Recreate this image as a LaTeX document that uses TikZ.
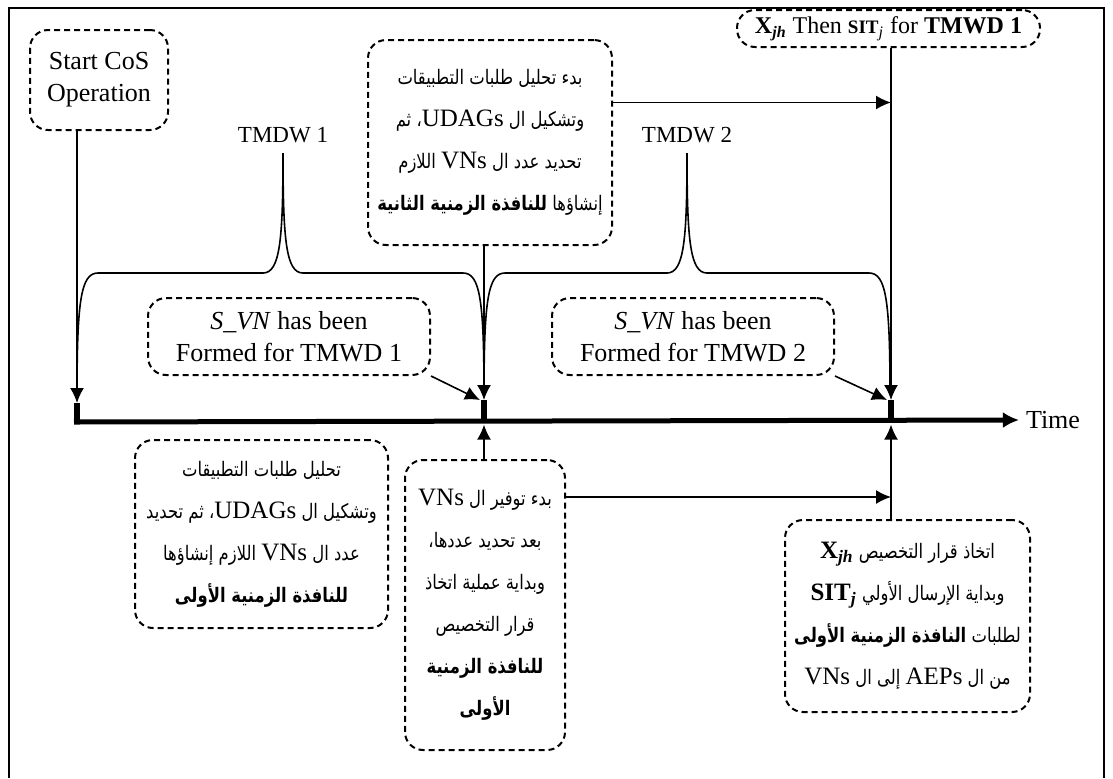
\documentclass[tikz,border=0pt]{standalone}
\usepackage{fontspec}
\setmainfont{Liberation Serif}
\newfontfamily\arabicfont[Script=Arabic,FakeStretch=0.82]{DejaVu Sans}
\usetikzlibrary{arrows,arrows.meta,calc,positioning}
\TeXXeTstate=1
\newcommand{\arline}[1]{{\arabicfont\beginR #1\endR}}
\newcommand{\latw}[1]{\beginL{\rmfamily\fontsize{12.5}{21}\selectfont #1}\endL}
\tikzset{%
	dbox/.style     = {draw, dashed, rounded corners=9pt, line width=1pt, dash pattern=on 3pt off 2pt, align=center, inner sep=2pt},
	arbox/.style    = {dbox, font=\fontsize{10}{21}\selectfont}, % Arabic notes
	enbox/.style    = {dbox, font=\fontsize{13}{16}\selectfont}, % English notes
	label/.style    = {font=\fontsize{11.5}{14}\selectfont},
	waypoint/.style = {coordinate},
	tick/.style     = {line width=3pt},
	axis/.style     = {line width=2.5pt, -{Latex[length=8pt,width=8pt]}},
	arrow/.style    = {line width=0.8pt, ->},
	brace/.style    = {line width=0.8pt},
}

\begin{document}
\begin{tikzpicture}[x=0.5pt,y=-0.5pt,node distance=203.5pt,>={Latex[length=7.5pt,width=7pt]}]
	\useasboundingbox (0,0) rectangle (1113,778);
	\draw[line width=1pt] (9,778) -- (9,8) -- (1104,8) -- (1104,778);

	\node [waypoint] (t0) at (77,422) {};
	\node [waypoint] (t1) [right of=t0] {};
	\node [waypoint] (t2) [right of=t1] {};
	\node [waypoint] (t0up) [above of=t0,node distance=9.5pt] {};
	\node [waypoint] (t1up) [above of=t1,node distance=11pt] {};
	\node [waypoint] (t2up) [above of=t2,node distance=11pt] {};
	\node [waypoint] (t1dn) [below of=t1,node distance=1.3pt] {};
	\node [waypoint] (t2dn) [below of=t2,node distance=1.3pt] {};
	\node [label,font=\fontsize{13}{15}\selectfont] (time) at (1053,420) {Time};

	\node [enbox,minimum width=69pt,minimum height=50pt] (start) at (99,80) {Start CoS\\Operation};
	\node [arbox,minimum width=122pt,minimum height=102.5pt] (plan2) at (490,142.5) {%
		\arline{بدء تحليل طلبات التطبيقات}\\
		\arline{وتشكيل ال \latw{UDAGs}، ثم}\\
		\arline{تحديد عدد ال \latw{VNs} اللازم}\\
		\arline{إنشاؤها \textbf{للنافذة الزمنية الثانية}}};
	\node [enbox,font=\fontsize{12}{14}\selectfont,minimum width=151.5pt,minimum height=18.5pt,inner sep=1pt] (alloc1) at (888.5,28.5) {\textbf{X\textsubscript{\textit{jh}}} Then \textbf{\fontsize{9.5}{12}\selectfont SIT}\textsubscript{\textit{j}} for \textbf{TMWD 1}};
	\node [enbox,minimum width=141pt,minimum height=38.5pt] (svn1) at (289,336.5) {\textit{S\_VN} has been\\Formed for TMWD 1};
	\node [enbox,minimum width=141pt,minimum height=38.5pt] (svn2) at (693,336.5) {\textit{S\_VN} has been\\Formed for TMWD 2};
	\node [arbox,minimum width=126.5pt,minimum height=94pt] (plan1) at (261.5,534) {%
		\arline{تحليل طلبات التطبيقات}\\
		\arline{وتشكيل ال \latw{UDAGs}، ثم تحديد}\\
		\arline{عدد ال \latw{VNs} اللازم إنشاؤها}\\
		\arline{\textbf{للنافذة الزمنية الأولى}}};
	\node [arbox,minimum width=80pt,minimum height=145pt] (prov1) at (485,605) {%
		\arline{بدء توفير ال \latw{VNs}}\\
		\arline{بعد تحديد عددها،}\\
		\arline{وبداية عملية اتخاذ}\\
		\arline{قرار التخصيص}\\
		\arline{\textbf{للنافذة الزمنية}}\\
		\arline{\textbf{الأولى}}};
	\node [arbox,minimum width=122.5pt,minimum height=96pt] (alloc0) at (907.5,616) {%
		\arline{اتخاذ قرار التخصيص \latw{\textbf{X\textsubscript{\textit{jh}}}}}\\
		\arline{وبداية الإرسال الأولي \latw{\textbf{SIT\textsubscript{\textit{j}}}}}\\
		\arline{لطلبات \textbf{النافذة الزمنية الأولى}}\\
		\arline{من ال \latw{AEPs} إلى ال \latw{VNs}}};

	\node [label] (tmdw1) at (283,135) {TMDW 1};
	\node [label] (tmdw2) at (687,135) {TMDW 2};

	% time line
	\draw[axis] ([xshift=-1.5pt]t0) -- (time.west);
	\draw[tick] (t0) -- (t0up);
	\draw[tick] (t1) -- (t1up);
	\draw[tick] (t2) -- (t2up);

	% windows
	\draw[brace] (77,395) .. controls (77,300) and (81,273) .. (98,273) -- (263,273) .. controls (280,273) and (283,240) .. (283,153) .. controls (283,240) and (286,273) .. (303,273) -- (463,273) .. controls (480,273) and (484,300) .. (484,395);
	\draw[brace] (484,395) .. controls (484,300) and (488,273) .. (505,273) -- (667,273) .. controls (684,273) and (687,240) .. (687,153) .. controls (687,240) and (690,273) .. (707,273) -- (869,273) .. controls (886,273) and (890,300) .. (890,395);

	\draw[arrow] (start.south -| t0) -- (t0up);
	\draw[arrow] (plan2.south -| t1) -- (t1up);
	\draw[arrow] ([yshift=20pt]plan2.east) -- ([yshift=20pt]plan2.east -| t2);
	\draw[arrow] (alloc1.south -| t2) -- (t2up);
	\draw[arrow] (svn1.south east) -- ([xshift=-2pt]t1up);
	\draw[arrow] (svn2.south east) -- ([xshift=-2pt]t2up);
	\draw[arrow] (prov1.north -| t1) -- (t1dn);
	\draw[arrow] ([yshift=54pt]prov1.east) -- ([yshift=54pt]prov1.east -| t2);
	\draw[arrow] (alloc0.north -| t2) -- (t2dn);
\end{tikzpicture}
\end{document}
